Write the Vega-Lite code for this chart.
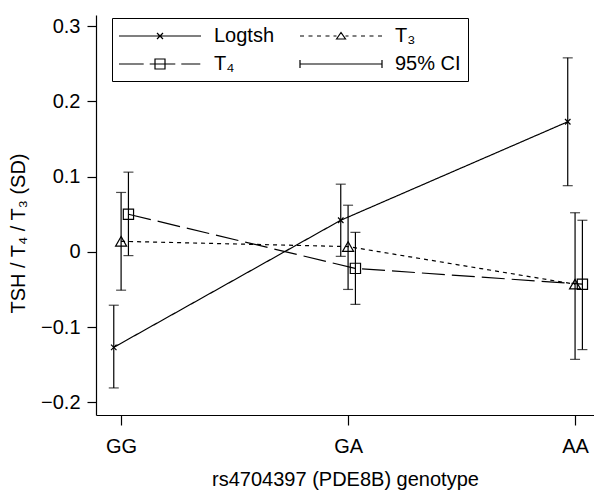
{
  "$schema": "https://vega.github.io/schema/vega-lite/v6.json",
  "width": 498,
  "height": 400,
  "autosize": {"type": "none"},
  "padding": {"left": 96, "top": 15, "right": 0, "bottom": 76},
  "background": "white",
  "config": {
    "view": {"stroke": null},
    "font": "Liberation Sans",
    "axis": {
      "domainColor": "black",
      "tickColor": "black",
      "labelColor": "black",
      "titleColor": "black",
      "labelFontSize": 20,
      "titleFontSize": 20,
      "titleFontWeight": "normal",
      "labelFont": "Liberation Sans",
      "titleFont": "Liberation Sans",
      "grid": false,
      "domainWidth": 1.2,
      "tickWidth": 1.2
    }
  },
  "data": {
    "values": [
      {"genotype": "GG", "series": "Logtsh", "est": -0.127, "lo": -0.181, "hi": -0.071},
      {"genotype": "GA", "series": "Logtsh", "est": 0.042, "lo": -0.006, "hi": 0.090},
      {"genotype": "AA", "series": "Logtsh", "est": 0.173, "lo": 0.088, "hi": 0.258},
      {"genotype": "GG", "series": "T₃", "est": 0.014, "lo": -0.051, "hi": 0.079},
      {"genotype": "GA", "series": "T₃", "est": 0.007, "lo": -0.050, "hi": 0.062},
      {"genotype": "AA", "series": "T₃", "est": -0.043, "lo": -0.143, "hi": 0.052},
      {"genotype": "GG", "series": "T₄", "est": 0.050, "lo": -0.005, "hi": 0.106},
      {"genotype": "GA", "series": "T₄", "est": -0.022, "lo": -0.070, "hi": 0.026},
      {"genotype": "AA", "series": "T₄", "est": -0.043, "lo": -0.130, "hi": 0.042}
    ]
  },
  "encoding": {
    "x": {
      "field": "genotype",
      "type": "ordinal",
      "scale": {"type": "point", "domain": ["GG", "GA", "AA"], "padding": 0.097, "align": 0.57},
      "axis": {"title": "rs4704397 (PDE8B) genotype", "labelAngle": 0, "tickSize": 10, "labelPadding": 11, "titlePadding": 13}
    },
    "xOffset": {
      "field": "series",
      "type": "nominal",
      "scale": {"type": "point", "domain": ["Logtsh", "T₃", "T₄"], "range": [-11, 11]}
    }
  },
  "layer": [
    {
      "mark": {"type": "line", "color": "black", "strokeWidth": 1.2},
      "encoding": {
        "y": {
          "field": "est",
          "type": "quantitative",
          "scale": {"domain": [-0.217, 0.315], "nice": false, "zero": false},
          "axis": {"values": [-0.2, -0.1, 0, 0.1, 0.2, 0.3], "format": ".1~f", "title": "TSH / T₄ / T₃ (SD)", "tickSize": 9, "labelPadding": 7, "titlePadding": 12, "titleY": 218}
        },
        "strokeDash": {
          "field": "series",
          "type": "nominal",
          "scale": {"domain": ["Logtsh", "T₃", "T₄"], "range": [[1, 0], [4, 4], [23, 7]]},
          "legend": null
        }
      }
    },
    {
      "mark": {"type": "rule", "color": "black", "strokeWidth": 1.2},
      "encoding": {
        "y": {"field": "lo", "type": "quantitative"},
        "y2": {"field": "hi"}
      }
    },
    {
      "mark": {"type": "tick", "orient": "horizontal", "size": 10, "thickness": 1.2, "color": "black"},
      "encoding": {"y": {"field": "lo", "type": "quantitative"}}
    },
    {
      "mark": {"type": "tick", "orient": "horizontal", "size": 10, "thickness": 1.2, "color": "black"},
      "encoding": {"y": {"field": "hi", "type": "quantitative"}}
    },
    {
      "mark": {"type": "point", "filled": false, "color": "black", "strokeWidth": 1.2, "opacity": 1},
      "encoding": {
        "y": {"field": "est", "type": "quantitative"},
        "shape": {
          "field": "series",
          "type": "nominal",
          "scale": {"domain": ["Logtsh", "T₃", "T₄"], "range": ["M-1,-1L1,1M-1,1L1,-1", "triangle-up", "square"]},
          "legend": null
        },
        "size": {
          "field": "series",
          "type": "nominal",
          "scale": {"type": "ordinal", "domain": ["Logtsh", "T₃", "T₄"], "range": [30, 121, 105]},
          "legend": null
        }
      }
    },
    {
      "mark": {"type": "point", "filled": false, "color": "black", "opacity": 0},
      "encoding": {
        "y": {"field": "est", "type": "quantitative"},
        "shape": {
          "field": "series",
          "type": "nominal",
          "scale": {
            "domain": ["Logtsh", "T₄", "T₃", "95% CI"],
            "range": [
              "M-4.1,0H4.1M-0.3,-0.3L0.3,0.3M-0.3,0.3L0.3,-0.3",
              "M-4.1,0H-1.63M-1.03,0H1.53M-0.5,-0.5H0.5V0.5H-0.5ZM2.13,0H4.03",
              "M-4.1,0H-3.7M-3.25,0H-2.85M-2.4,0H-2M-1.55,0H-1.15M-0.75,0H-0.45M-0.45,0.3L0,-0.35L0.45,0.3ZM0.45,0H0.75M1.15,0H1.55M2,0H2.4M2.85,0H3.25M3.7,0H4.1",
              "M-4.1,-0.4V0.4M-4.1,0H4.1M4.1,-0.4V0.4"
            ]
          },
          "legend": {
            "title": null,
            "orient": "none",
            "legendX": 16,
            "legendY": 3,
            "columns": 2,
            "strokeColor": "black",
            "padding": 7,
            "symbolSize": 400,
            "symbolOffset": 30,
            "labelOffset": 43,
            "symbolStrokeWidth": 1.2,
            "symbolStrokeColor": "black",
            "symbolFillColor": "transparent",
            "symbolOpacity": 1,
            "labelFontSize": 20,
            "labelFont": "Liberation Sans",
            "labelColor": "black",
            "labelLimit": 0,
            "columnPadding": 22,
            "rowPadding": 7
          }
        }
      }
    }
  ],
  "resolve": {"scale": {"shape": "independent", "size": "independent"}}
}
